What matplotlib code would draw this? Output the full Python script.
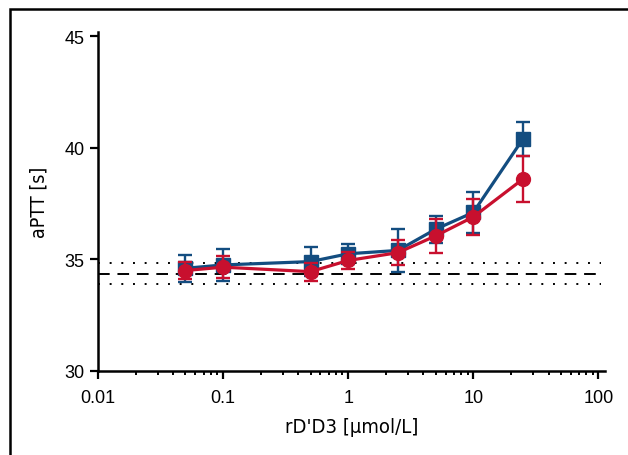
import matplotlib
matplotlib.use('Agg')
import numpy as np
import matplotlib.pyplot as plt
from matplotlib.patches import Rectangle
from matplotlib.ticker import LogLocator, NullFormatter, FixedLocator

# concentrations (umol/L)
conc = [0.05, 0.1, 0.5, 1, 2.5, 5, 10, 25]

# blue squares
blue_mean = [34.6, 34.75, 34.9, 35.25, 35.4, 36.35, 37.1, 40.4]
blue_err = [0.6, 0.7, 0.65, 0.45, 0.95, 0.6, 0.93, 0.75]

# red circles
red_mean = [34.5, 34.65, 34.45, 34.95, 35.3, 36.05, 36.9, 38.6]
red_err = [0.38, 0.5, 0.4, 0.4, 0.55, 0.75, 0.8, 1.05]

# reference range
ref_mean = 34.35
ref_low = 33.9
ref_high = 34.85

blue = '#134d80'
red = '#c8102e'

plt.rcParams['font.family'] = ['Liberation Sans', 'DejaVu Sans']

fig = plt.figure(figsize=(6.28, 4.56), dpi=100)
ax = fig.add_axes([98/628, 84/456, 507/628, 339.4/456])

# frame around the figure (runs off the right/bottom edge)
fig.patches.append(Rectangle((10/628, -0.1), 1.2, (446/456) + 0.1, transform=fig.transFigure,
                             fill=False, edgecolor='black', linewidth=1.8))

ax.hlines(ref_mean, 0.01, 105, colors='black', linestyles=(0, (6, 4)), linewidth=1.4)
ax.hlines([ref_low, ref_high], 0.01, 105, colors='black', linestyles=(0, (1, 5)), linewidth=1.4)

ax.errorbar(conc, blue_mean, yerr=blue_err, color=blue, marker='s', markersize=9.5,
            linewidth=2.3, elinewidth=1.7, capsize=4.8, capthick=1.7, zorder=3)
ax.errorbar(conc, red_mean, yerr=red_err, color=red, marker='o', markersize=10,
            linewidth=2.3, elinewidth=1.7, capsize=4.8, capthick=1.7, zorder=4)

ax.set_xscale('log')
ax.set_xlim(0.01, 113)
ax.set_ylim(30, 45.2)
ax.xaxis.set_major_locator(FixedLocator([0.01, 0.1, 1, 10, 100]))
ax.set_xticklabels(['0.01', '0.1', '1', '10', '100'])
ax.xaxis.set_minor_locator(LogLocator(base=10, subs=np.arange(2, 10)))
ax.xaxis.set_minor_formatter(NullFormatter())
ax.set_yticks([30, 35, 40, 45])

for s in ['top', 'right']:
    ax.spines[s].set_visible(False)
for s in ['left', 'bottom']:
    ax.spines[s].set_linewidth(1.8)
ax.spines['left'].set_bounds(30, 45.2)

ax.tick_params(axis='both', which='major', direction='out', length=6, width=1.6,
               labelsize=13)
ax.tick_params(axis='x', which='major', pad=7)
ax.tick_params(axis='x', which='minor', direction='out', length=3, width=1.4)

ax.set_xlabel('rD\'D3 [\u03bcmol/L]', family='DejaVu Sans', fontstretch='condensed',
              fontsize=14.5, labelpad=8)
ax.set_ylabel('aPTT [s]', family='DejaVu Sans', fontstretch='condensed',
              fontsize=14, labelpad=12)

fig.savefig('out.png', dpi=100)
